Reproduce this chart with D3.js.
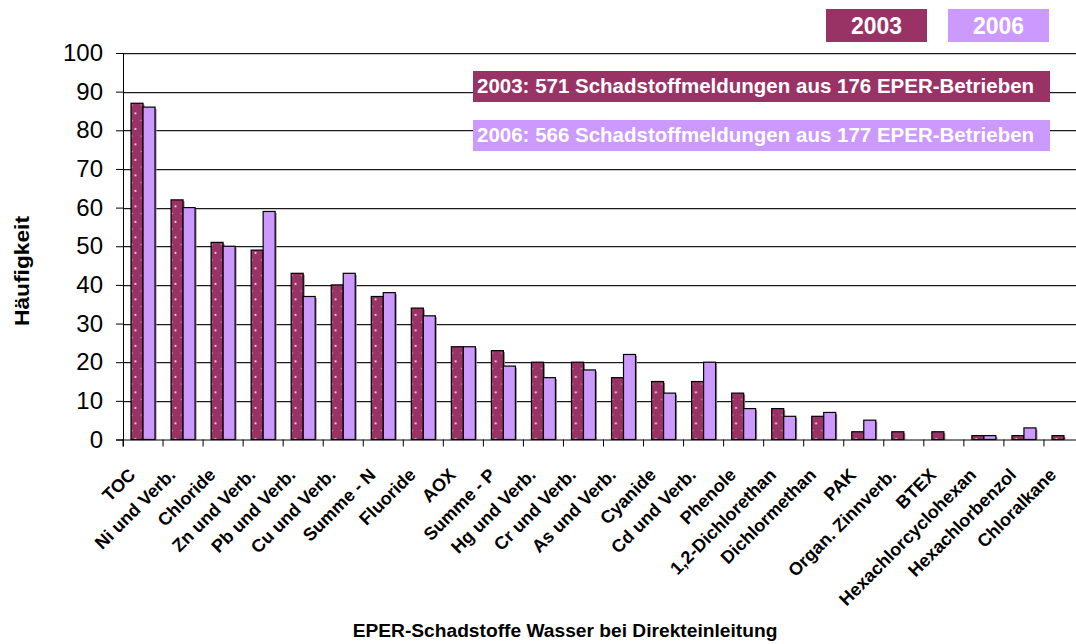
<!DOCTYPE html>
<html>
<head>
<meta charset="utf-8">
<script src="https://cdn.jsdelivr.net/npm/d3@7"></script>
<style>
  body { margin: 0; background: #fff; }
  text { font-family: "Liberation Sans", Arial, sans-serif; }
</style>
</head>
<body>
<script>
let width = 1076;
let height = 644;

let categories = ["TOC", "Ni und Verb.", "Chloride", "Zn und Verb.", "Pb und Verb.", "Cu und Verb.",
  "Summe - N", "Fluoride", "AOX", "Summe - P", "Hg und Verb.", "Cr und Verb.", "As und Verb.",
  "Cyanide", "Cd und Verb.", "Phenole", "1,2-Dichlorethan", "Dichlormethan", "PAK",
  "Organ. Zinnverb.", "BTEX", "Hexachlorcyclohexan", "Hexachlorbenzol", "Chloralkane"];
let values2003 = [87, 62, 51, 49, 43, 40, 37, 34, 24, 23, 20, 20, 16, 15, 15, 12, 8, 6, 2, 2, 2, 1, 1, 1];
let values2006 = [86, 60, 50, 59, 37, 43, 38, 32, 24, 19, 16, 18, 22, 12, 20, 8, 6, 7, 5, 0, 0, 1, 3, 0];
let yTicks = [0, 10, 20, 30, 40, 50, 60, 70, 80, 90, 100];
let years = ["2003", "2006"];
let notes = ["2003: 571 Schadstoffmeldungen aus 176 EPER-Betrieben",
  "2006: 566 Schadstoffmeldungen aus 177 EPER-Betrieben"];

let c2003 = "#993366";
let c2006 = "#cc99ff";

let plotLeft = 123, plotRight = 1084, plotTop = 53, plotBottom = 439.5;

let svg = d3.select("body").append("svg").attr("width", width).attr("height", height);

// dotted fill for the 2003 bars
let defs = svg.append("defs");
let pat = defs.append("pattern")
  .attr("id", "dots")
  .attr("patternUnits", "userSpaceOnUse")
  .attr("width", 40.04).attr("height", 15.5)
  .attr("x", 131);
pat.append("rect").attr("width", 40.04).attr("height", 15.5).attr("fill", c2003);
pat.append("rect").attr("x", 3.5).attr("y", 4).attr("width", 1.8).attr("height", 1.8).attr("fill", "#f6e2ec");
pat.append("rect").attr("x", 0.6).attr("y", 11.5).attr("width", 1.2).attr("height", 1.2).attr("fill", "#cf9ab4");
pat.append("rect").attr("x", 9.5).attr("y", 11.5).attr("width", 1.2).attr("height", 1.2).attr("fill", "#cf9ab4");

let x = d3.scaleBand().domain(categories).range([plotLeft, plotRight]).paddingInner(0).paddingOuter(0);
let inner = d3.scaleBand().domain(years).range([x.bandwidth() / 2 - 12, x.bandwidth() / 2 + 12]);
let y = d3.scaleLinear().domain([0, 100]).range([plotBottom, plotTop]);

// gridlines with a light shadow underneath
svg.append("g").selectAll("line")
  .data(yTicks.slice(1))
  .enter()
  .append("line")
  .attr("x1", plotLeft).attr("x2", plotRight)
  .attr("y1", d => Math.round(y(d)) + 1.5).attr("y2", d => Math.round(y(d)) + 1.5)
  .attr("stroke", "#c8c8c8").attr("stroke-width", 1);
svg.append("g").selectAll("line")
  .data(yTicks.slice(1))
  .enter()
  .append("line")
  .attr("x1", plotLeft).attr("x2", plotRight)
  .attr("y1", d => Math.round(y(d)) + 0.5).attr("y2", d => Math.round(y(d)) + 0.5)
  .attr("stroke", "#1a1a1a").attr("stroke-width", 1);

// bars
let rows = categories.map((c, i) => ({ cat: c, v: [values2003[i], values2006[i]] }));
let groups = svg.append("g").selectAll("g")
  .data(rows)
  .enter()
  .append("g");

groups.each(function (d) {
  let g = d3.select(this);
  years.forEach((yr, k) => {
    let val = d.v[k];
    if (val <= 0) return;
    let bx = x(d.cat) + inner(yr), by = y(val), bh = y(0) - y(val);
    // shadow
    g.append("rect")
      .attr("x", bx + 1.5).attr("y", by + 1.5)
      .attr("width", inner.bandwidth()).attr("height", Math.max(0, bh - 1.5))
      .attr("fill", "#8a8a8a");
    g.append("rect")
      .attr("x", bx).attr("y", by)
      .attr("width", inner.bandwidth()).attr("height", bh)
      .attr("fill", k === 0 ? "url(#dots)" : c2006)
      .attr("stroke", "#000").attr("stroke-width", 1.2);
  });
});

// y axis
let yAxis = d3.axisLeft(y).tickValues(yTicks).tickSize(7).tickPadding(13);
let yg = svg.append("g").attr("transform", "translate(" + plotLeft + ",0)").call(yAxis);
yg.select(".domain").attr("stroke", "#000");
yg.selectAll(".tick line").attr("stroke", "#000");
yg.selectAll(".tick text")
  .style("font-family", "'Liberation Sans', Arial, sans-serif")
  .style("font-size", "24px").attr("fill", "#000");

// x axis
let xAxis = d3.axisBottom(x).tickSize(7).tickFormat("");
let xg = svg.append("g").attr("transform", "translate(0," + plotBottom + ")").call(xAxis);
xg.select(".domain").attr("stroke", "#000");
xg.selectAll(".tick").attr("transform", d => "translate(" + x(d) + ",0)");
xg.selectAll(".tick line").attr("stroke", "#000");

// category labels, rotated
svg.append("g").selectAll("text")
  .data(categories)
  .enter()
  .append("text")
  .attr("transform", d => "translate(" + (x(d) + x.bandwidth() / 2 - 11) + "," + (plotBottom + 32) + ") rotate(-45)")
  .attr("text-anchor", "end")
  .attr("dy", "0.35em")
  .style("font-size", "18px")
  .style("font-weight", "bold")
  .text(d => d);

// axis titles
svg.append("text")
  .attr("transform", "translate(29,271) rotate(-90)")
  .attr("text-anchor", "middle")
  .attr("textLength", 110).attr("lengthAdjust", "spacingAndGlyphs")
  .style("font-size", "20px").style("font-weight", "bold")
  .text("Häufigkeit");
svg.append("text")
  .attr("x", 565).attr("y", 637)
  .attr("text-anchor", "middle")
  .style("font-size", "19.2px").style("font-weight", "bold")
  .text("EPER-Schadstoffe Wasser bei Direkteinleitung");

// legend boxes
let legend = svg.append("g").selectAll("g")
  .data(years)
  .enter()
  .append("g")
  .attr("transform", (d, i) => "translate(" + (826 + i * 122) + ",9)");
legend.append("rect").attr("width", 101).attr("height", 33)
  .attr("fill", (d, i) => i === 0 ? c2003 : c2006);
legend.append("text").attr("x", 50.5).attr("y", 25)
  .attr("text-anchor", "middle").attr("fill", "#fff")
  .style("font-size", "23px").style("font-weight", "bold")
  .text(d => d);

// note boxes
let noteG = svg.append("g").selectAll("g")
  .data(notes)
  .enter()
  .append("g")
  .attr("transform", (d, i) => "translate(473," + (71 + i * 49) + ")");
noteG.append("rect").attr("width", 577).attr("height", 31)
  .attr("fill", (d, i) => i === 0 ? c2003 : c2006);
noteG.append("text").attr("x", 4).attr("y", 22)
  .attr("fill", "#fff")
  .style("font-size", "20.5px").style("font-weight", "bold")
  .text(d => d);
</script>
</body>
</html>
